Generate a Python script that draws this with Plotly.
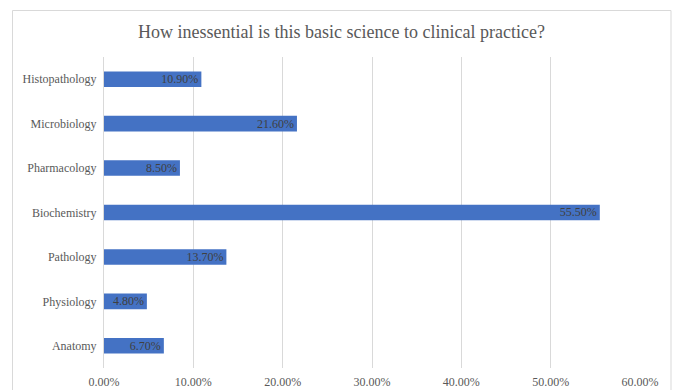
import plotly.graph_objects as go

categories = ["Anatomy", "Physiology", "Pathology", "Biochemistry", "Pharmacology", "Microbiology", "Histopathology"]
values = [6.70, 4.80, 13.70, 55.50, 8.50, 21.60, 10.90]
tick_vals = [0, 10, 20, 30, 40, 50, 60]
tick_text = ["0.00%", "10.00%", "20.00%", "30.00%", "40.00%", "50.00%", "60.00%"]
title = "How inessential is this basic science to clinical practice?"

SERIF = "Times New Roman, Liberation Serif, serif"
W, H = 676, 390
L, R, T, B = 104, 36, 57, 22
pw, ph = W - L - R, H - T - B

fig = go.Figure(go.Bar(
    y=categories, x=values, orientation="h",
    marker=dict(color="#4472C4", line=dict(width=0)),
    text=[f"{v:.2f}%" for v in values],
    textposition="inside", insidetextanchor="end", constraintext="none",
    textfont=dict(family=SERIF, size=12, color="#404040"),
    cliponaxis=False,
))

def px_x(p):
    return (p - L) / pw

def px_y(p):
    return (H - B - p) / ph

border = dict(color="#D9D9D9", width=1)
xl, xr, yt, yb = px_x(12.5), px_x(671), px_y(10.5), px_y(450)
fig.add_shape(type="line", xref="paper", yref="paper", x0=xl, x1=xr, y0=yt, y1=yt, line=border, layer="below")
fig.add_shape(type="line", xref="paper", yref="paper", x0=xl, x1=xl, y0=yb, y1=yt, line=border, layer="below")
fig.add_shape(type="line", xref="paper", yref="paper", x0=xr, x1=xr, y0=yb, y1=yt, line=border, layer="below")

fig.update_layout(
    width=W, height=H,
    margin=dict(l=L, r=R, t=T, b=B, pad=0, autoexpand=False),
    paper_bgcolor="white", plot_bgcolor="white",
    bargap=0.65,
    showlegend=False,
    title=dict(text=title, x=341.5 / W, xref="container", xanchor="center",
               y=1 - 32 / H, yref="container", yanchor="middle",
               font=dict(family=SERIF, size=18, color="#595959")),
    font=dict(family=SERIF, size=12, color="#595959"),
)
fig.update_xaxes(range=[0, 60], tickvals=tick_vals, ticktext=tick_text,
                 showgrid=True, gridcolor="#D9D9D9", gridwidth=1,
                 zeroline=False, showline=False, ticks="", ticklen=0,
                 automargin=False, ticklabelstandoff=5,
                 tickfont=dict(family=SERIF, size=12, color="#595959"),
                 fixedrange=True)
fig.update_yaxes(categoryorder="array", categoryarray=categories,
                 showgrid=False, zeroline=False, showline=True, linecolor="#D9D9D9", linewidth=1,
                 ticks="", ticklabelstandoff=4, automargin=False,
                 tickfont=dict(family=SERIF, size=12, color="#595959"),
                 fixedrange=True)

fig.write_html("out.html")
